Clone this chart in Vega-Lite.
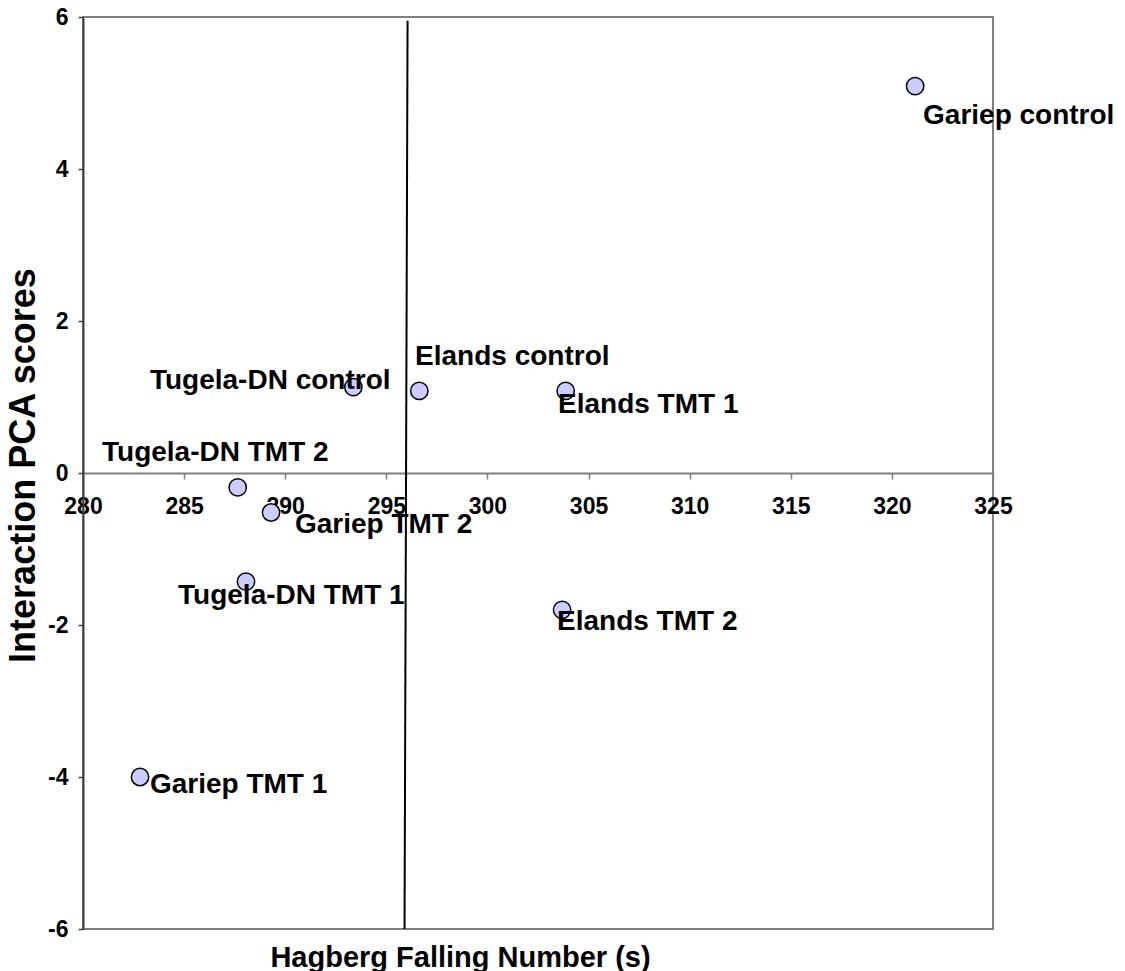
{
  "$schema": "https://vega.github.io/schema/vega-lite/v6.json",
  "width": 910,
  "height": 912,
  "autosize": {"type": "none"},
  "padding": {"left": 83, "top": 17, "right": 132, "bottom": 42},
  "background": "white",
  "config": {
    "view": {"stroke": "#808080", "strokeWidth": 2},
    "font": "Liberation Sans"
  },
  "datasets": {
    "pts": [
      {"name": "Gariep control", "fn": 321.15, "pca": 5.09, "lx": 321.54, "ly": 4.59},
      {"name": "Tugela-DN control", "fn": 293.37, "pca": 1.13, "lx": 283.31, "ly": 1.10},
      {"name": "Elands control", "fn": 296.63, "pca": 1.08, "lx": 296.42, "ly": 1.42},
      {"name": "Elands TMT 1", "fn": 303.87, "pca": 1.08, "lx": 303.49, "ly": 0.79},
      {"name": "Tugela-DN TMT 2", "fn": 287.65, "pca": -0.19, "lx": 280.94, "ly": 0.16},
      {"name": "Gariep TMT 2", "fn": 289.3, "pca": -0.52, "lx": 290.48, "ly": -0.79},
      {"name": "Tugela-DN TMT 1", "fn": 288.06, "pca": -1.43, "lx": 284.70, "ly": -1.72},
      {"name": "Elands TMT 2", "fn": 303.69, "pca": -1.8, "lx": 303.44, "ly": -2.07},
      {"name": "Gariep TMT 1", "fn": 282.82, "pca": -4.0, "lx": 283.31, "ly": -4.21}
    ],
    "vline": [
      {"x1": 296.05, "y1": 5.95, "x2": 295.9, "y2": -6}
    ]
  },
  "layer": [
    {
      "data": {"name": "vline"},
      "mark": {"type": "rule", "color": "black", "strokeWidth": 2},
      "encoding": {
        "x": {"field": "x1", "type": "quantitative", "scale": {"domain": [280, 325], "nice": false, "zero": false}},
        "y": {"field": "y1", "type": "quantitative", "scale": {"domain": [-6, 6], "nice": false, "zero": false}},
        "x2": {"field": "x2"},
        "y2": {"field": "y2"}
      }
    },
    {
      "data": {"name": "pts"},
      "mark": {"type": "point", "shape": "circle", "filled": true, "fill": "#CCCCFF", "stroke": "black", "strokeWidth": 1.5, "size": 300, "opacity": 1},
      "encoding": {
        "x": {
          "field": "fn", "type": "quantitative",
          "scale": {"domain": [280, 325], "nice": false, "zero": false},
          "axis": {
            "title": "Hagberg Falling Number (s)",
            "values": [280, 285, 290, 295, 300, 305, 310, 315, 320, 325],
            "offset": -456,
            "grid": false,
            "domainColor": "#808080",
            "domainWidth": 2,
            "tickColor": "#808080",
            "tickWidth": 1.5,
            "tickSize": 6,
            "labelFont": "Liberation Sans",
            "labelFontSize": 23,
            "labelFontWeight": "bold",
            "labelColor": "black",
            "labelPadding": 16,
            "labelOverlap": false,
            "labelFlush": false,
            "titleFont": "Liberation Sans",
            "titleFontSize": 29,
            "titleFontWeight": "bold",
            "titleColor": "black",
            "titleX": 377,
            "titleY": 493,
            "titleAlign": "center",
            "titleBaseline": "alphabetic",
            "titleAnchor": null
          }
        },
        "y": {
          "field": "pca", "type": "quantitative",
          "scale": {"domain": [-6, 6], "nice": false, "zero": false},
          "axis": {
            "title": "Interaction PCA scores",
            "values": [-6, -4, -2, 0, 2, 4, 6],
            "labelExpr": "'' + datum.value",
            "grid": false,
            "domainColor": "#404040",
            "domainWidth": 2,
            "tickColor": "#404040",
            "tickWidth": 1.5,
            "tickSize": 5,
            "labelFont": "Liberation Sans",
            "labelFontSize": 23,
            "labelFontWeight": "bold",
            "labelColor": "black",
            "labelPadding": 10,
            "labelFlush": false,
            "labelOverlap": false,
            "titleFont": "Liberation Sans",
            "titleFontSize": 36,
            "titleFontWeight": "bold",
            "titleColor": "black",
            "titleX": -60,
            "titleY": 448,
            "titleAngle": -90,
            "titleAlign": "center",
            "titleBaseline": "middle",
            "titleAnchor": null
          }
        }
      }
    },
    {
      "data": {"name": "pts"},
      "mark": {"type": "text", "align": "left", "baseline": "alphabetic", "font": "Liberation Sans", "fontSize": 28, "fontWeight": "bold", "color": "black"},
      "encoding": {
        "x": {"field": "lx", "type": "quantitative"},
        "y": {"field": "ly", "type": "quantitative"},
        "text": {"field": "name"}
      }
    }
  ]
}
